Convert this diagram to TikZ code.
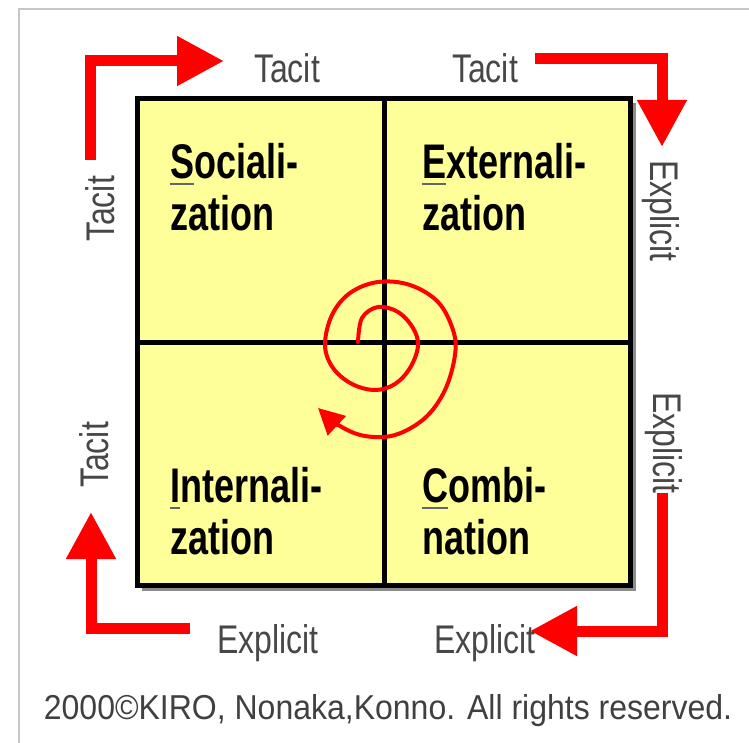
\documentclass[tikz,border=0pt]{standalone}
\usepackage{fontspec}
\setmainfont{Liberation Sans}
\usetikzlibrary{arrows.meta}

\definecolor{modeyellow}{RGB}{255,255,153}
\definecolor{flowred}{RGB}{255,0,0}

% thin grey underline under the first letter of a mode
\newcommand\keyletter[1]{\setbox0\hbox{#1}%
  \rlap{\textcolor{black!60}{\rule[-4.5pt]{\wd0}{1.3pt}}}#1}

\begin{document}
\begin{tikzpicture}[x = 1pt, y = -1pt,
    flow/.style  = {draw=flowred, line width=11pt, line join=miter,
                    -{Triangle[length=47pt,width=47pt]}},
    side/.style  = {text=black!72, font=\fontsize{32}{32}\selectfont,
                    inner sep=0pt, yscale=1.25, transform shape},
    mode/.style  = {font=\fontsize{36}{38.5}\selectfont\bfseries, align=left,
                    anchor=north west, inner sep=0pt, yscale=1.35, transform shape}]

    \useasboundingbox (0,0) rectangle (749,743);

    % frame
    \draw[gray!45, line width=2pt] (19,743) -- (19,9) -- (749,9);

    % the four modes
    \coordinate (nw) at (137.5,98.5);
    \coordinate (se) at (630.5,585.5);
    \coordinate (c)  at (384,342);

    \fill[black!45] (142,103) rectangle (636,591);
    \filldraw[fill=modeyellow, draw=black, line width=5pt] (nw) rectangle (se);
    \draw[line width=5pt] (c |- nw) -- (c |- se);
    \draw[line width=5pt] (nw |- c) -- (se |- c);

    \node[mode] (soc) at (170,143) {\keyletter{S}ociali-\\zation};
    \node[mode] (ext) at (422,143) {\keyletter{E}xternali-\\zation};
    \node[mode] (int) at (170,467) {\keyletter{I}nternali-\\zation};
    \node[mode] (com) at (422,467) {\keyletter{C}ombi-\\nation};

    % spiral
    \draw[flowred, line width=4pt, line cap=round,
          -{Triangle[length=26pt,width=26pt]}]
        plot[smooth, tension=0.6] coordinates {
            (358,342) (362,318) (378,307) (398,312) (413,328) (418,346)
            (410,368) (395,384) (375,390) (352,384) (333,368) (325,345)
            (332,315) (350,293) (378,282) (410,285) (438,302) (453,330)
            (455,355) (445,390) (425,418) (395,435) (365,436) (340,426)
            (318,408)};

    % labels round the square
    \node[side] (tacitT1) at (287,68) {Tacit};
    \node[side] (tacitT2) at (485,68) {Tacit};
    \node[rotate=90, side]  (tacitL1) at (100,209) {Tacit};
    \node[rotate=90, side]  (tacitL2) at (94,455)  {Tacit};
    \node[rotate=-90, side] (explR1)  at (661,211) {Explicit};
    \node[rotate=-90, side] (explR2)  at (664,443) {Explicit};
    \node[side] (explB1) at (268,643) {Explicit};
    \node[side] (explB2) at (485,643) {Explicit};

    % red arrows
    \coordinate (tl0) at (90,160);   \coordinate (tl1) at (224,61);
    \coordinate (tr0) at (535,59);   \coordinate (tr1) at (662,147);
    \coordinate (br0) at (662,493);  \coordinate (br1) at (530,631);
    \coordinate (bl0) at (190,628);  \coordinate (bl1) at (91,512);

    \draw[flow] (tl0) |- (tl1);
    \draw[flow] (tr0) -| (tr1);
    \draw[flow] (br0) |- (br1);
    \draw[flow] (bl0) -| (bl1);

    \node[text=black!75, font=\fontsize{32}{32}\selectfont, inner sep=0pt,
          yscale=1.08, transform shape] (copy) at (388,711)
        {2000\textcopyright KIRO, Nonaka,Konno. All rights reserved.};

\end{tikzpicture}
\end{document}
